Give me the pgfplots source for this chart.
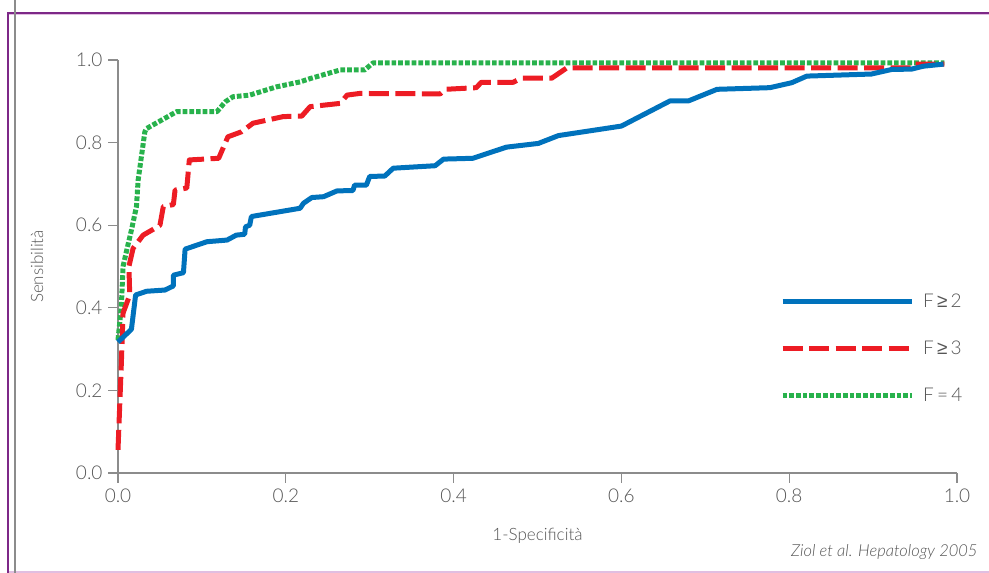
\documentclass[border=0pt]{standalone}
\usepackage{fontspec}
\IfFontExistsTF{Lato Light}{\setmainfont{Lato Light}[ItalicFont={Lato Light Italic}]}{\setmainfont{Lato}}
\newfontfamily\geqfont{Liberation Sans}
\newcommand{\GEQ}{{\geqfont ≥}}
\usepackage{pgfplots}
\pgfplotsset{compat=1.18}
\definecolor{cblue}{RGB}{0,114,188}
\definecolor{cred}{RGB}{237,28,36}
\definecolor{cgreen}{RGB}{40,178,76}
\definecolor{txt}{RGB}{85,85,85}
\definecolor{axg}{RGB}{140,140,140}
\definecolor{fpurple}{RGB}{125,40,135}
\definecolor{fpink}{RGB}{225,190,225}
\begin{document}
\begin{tikzpicture}[x=1pt,y=1pt]
\path[use as bounding box] (0,0) rectangle (989,573);
\draw[fpink, line width=1.5pt] (8,1.2) -- (989,1.2);
\draw[fpink, line width=1.2pt] (8,558.5) -- (989,558.5);
\draw[fpurple, line width=1.6pt] (8,0) -- (8,560) -- (989,560);
\draw[axg, line width=1.1pt] (15,0) -- (15,573);
\begin{axis}[
  at={(118pt,100pt)}, anchor=origin,
  scale only axis, width=839pt, height=413pt,
  xmin=0, xmax=1, ymin=0, ymax=1,
  clip=false,
  axis lines*=left,
  axis line style={axg, line width=1.2pt},
  tick style={axg, line width=1.2pt},
  tick align=outside,
  major tick length=10pt,
  xtick={0,0.2,0.4,0.6,0.8,1.0},
  ytick={0,0.2,0.4,0.6,0.8,1.0},
  /pgf/number format/.cd, fixed, fixed zerofill, precision=1, assume math mode=true, /pgfplots/.cd,
  ticklabel style={font=\fontsize{19}{22}\selectfont, text=txt},
  yticklabel style={xshift=-2pt},
  xticklabel style={yshift=-2pt},
  xlabel={1-Specificità},
  ylabel={Sensibilità},
  label style={font=\fontsize{17}{20}\selectfont, text=txt},
  xlabel style={at={(axis description cs:0.5,0)}, anchor=center, yshift=-63pt},
  ylabel style={at={(axis description cs:0,0.5)}, anchor=center, yshift=81pt},
  reverse legend,
  legend cell align=left,
  legend image code/.code={\draw[#1, line cap=butt] (0pt,0pt) -- (129pt,0pt);},
  legend style={draw=none, fill=none, at={(axis cs:0.789,0.441)}, anchor=north west,
    font=\fontsize{19}{22}\selectfont, text=txt, row sep=26pt, inner sep=0pt,
    nodes={inner sep=3pt}},
]
\addplot[cgreen, line width=5pt, dash pattern=on 4.7pt off 2pt, line join=round] coordinates {
(0,0.322)(0.004,0.403)(0.006,0.500)(0.010,0.536)(0.016,0.588)(0.022,0.645)(0.024,0.709)(0.032,0.826)(0.034,0.834)(0.070,0.875)(0.118,0.875)(0.128,0.899)(0.137,0.911)(0.157,0.915)(0.189,0.935)(0.217,0.947)(0.229,0.955)(0.265,0.976)(0.294,0.976)(0.304,0.993)(0.985,0.993)
};
\addlegendentry{\hspace{6pt}F\,=\,4}
\addplot[cred, line width=5pt, dash pattern=on 20pt off 6.5pt, line join=round] coordinates {
(0,0.056)(0.004,0.266)(0.006,0.387)(0.014,0.431)(0.013,0.500)(0.018,0.544)(0.030,0.576)(0.042,0.590)(0.050,0.600)(0.054,0.645)(0.066,0.650)(0.068,0.685)(0.082,0.690)(0.085,0.758)(0.120,0.762)(0.131,0.814)(0.147,0.826)(0.161,0.847)(0.197,0.863)(0.219,0.864)(0.229,0.887)(0.265,0.895)(0.273,0.915)(0.288,0.919)(0.384,0.918)(0.390,0.929)(0.427,0.933)(0.433,0.946)(0.471,0.946)(0.481,0.956)(0.517,0.956)(0.535,0.981)(0.945,0.981)(0.950,0.990)(0.985,0.990)
};
\addlegendentry{\hspace{6pt}F\,\GEQ\,3}
\addplot[cblue, line width=5pt, line join=round] coordinates {
(0,0.317)(0.016,0.348)(0.021,0.431)(0.034,0.440)(0.056,0.443)(0.066,0.453)(0.066,0.479)(0.078,0.485)(0.080,0.542)(0.106,0.560)(0.130,0.564)(0.141,0.576)(0.151,0.578)(0.152,0.596)(0.157,0.600)(0.159,0.621)(0.217,0.641)(0.221,0.653)(0.231,0.667)(0.245,0.669)(0.261,0.683)(0.280,0.684)(0.282,0.697)(0.296,0.697)(0.300,0.718)(0.318,0.719)(0.328,0.738)(0.378,0.744)(0.388,0.760)(0.423,0.762)(0.463,0.789)(0.501,0.798)(0.525,0.817)(0.600,0.840)(0.658,0.901)(0.680,0.901)(0.714,0.929)(0.777,0.933)(0.803,0.945)(0.821,0.961)(0.898,0.966)(0.922,0.977)(0.946,0.978)(0.960,0.985)(0.984,0.990)
};
\addlegendentry{\hspace{6pt}F\,\GEQ\,2}
\end{axis}
\node[anchor=east, text=txt, font=\fontsize{16.5}{19}\selectfont\itshape] at (981,21) {Ziol et al. Hepatology 2005};
\end{tikzpicture}
\end{document}
